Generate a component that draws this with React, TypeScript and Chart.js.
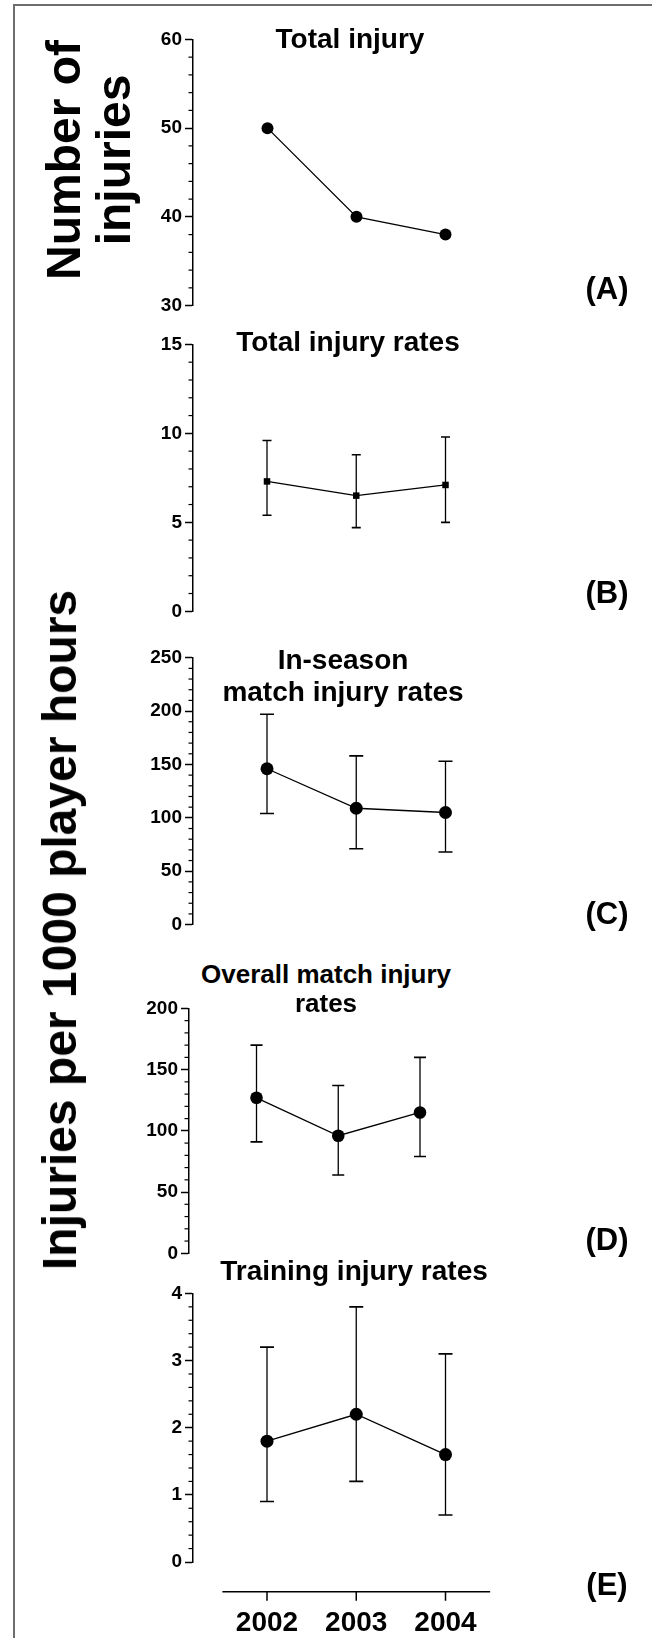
import React, { useEffect, useRef } from 'react';
import { Chart, registerables } from 'chart.js';

Chart.register(...registerables);

// ---------------- data ----------------
const years = ['2002', '2003', '2004'];

const totalInjuries = [50, 40, 38];

const totalRate = [7.3, 6.5, 7.1];
const totalRateLow = [5.4, 4.7, 5.0];
const totalRateHigh = [9.6, 8.8, 9.8];

const inSeasonRate = [146, 109, 105];
const inSeasonLow = [104, 71, 68];
const inSeasonHigh = [197, 158, 153];

const overallRate = [127, 96, 115];
const overallLow = [91, 64, 79];
const overallHigh = [170, 137, 160];

const trainingRate = [1.8, 2.2, 1.6];
const trainingLow = [0.9, 1.2, 0.7];
const trainingHigh = [3.2, 3.8, 3.1];

// ---------------- layout ----------------
const W = 652;
const H = 1638;
const FONT = '"Liberation Sans", Arial, Helvetica, sans-serif';

type Panel = {
  key: string;
  values: number[];
  low?: number[];
  high?: number[];
  yMin: number;
  yMax: number;
  major: number;
  minor: number;
  top: number;
  bottom: number;
  axisX: number;
  p0: number;
  p2: number;
  pointStyle: 'circle' | 'rect';
  pointRadius: number;
  capHalf: number;
  title: string[];
  titleX: number;
  titleY: number[];
  titleSize: number;
  letter: string;
  letterY: number;
  showYears?: boolean;
};

const panels: Panel[] = [
  {
    key: 'A', values: totalInjuries, yMin: 30, yMax: 60, major: 10, minor: 2,
    top: 39.3, bottom: 306, axisX: 193, p0: 267.5, p2: 445.5,
    pointStyle: 'circle', pointRadius: 6, capHalf: 0,
    title: ['Total injury'], titleX: 350, titleY: [39], titleSize: 28,
    letter: '(A)', letterY: 288,
  },
  {
    key: 'B', values: totalRate, low: totalRateLow, high: totalRateHigh,
    yMin: 0, yMax: 15, major: 5, minor: 1,
    top: 344, bottom: 611.3, axisX: 193, p0: 267, p2: 445.5,
    pointStyle: 'rect', pointRadius: 4.6, capHalf: 4.5,
    title: ['Total injury rates'], titleX: 348, titleY: [342], titleSize: 28,
    letter: '(B)', letterY: 591.5,
  },
  {
    key: 'C', values: inSeasonRate, low: inSeasonLow, high: inSeasonHigh,
    yMin: 0, yMax: 250, major: 50, minor: 10,
    top: 657.7, bottom: 925, axisX: 193, p0: 267, p2: 445.5,
    pointStyle: 'circle', pointRadius: 6.5, capHalf: 7,
    title: ['In-season', 'match injury rates'], titleX: 343, titleY: [660, 691.5], titleSize: 28,
    letter: '(C)', letterY: 913,
  },
  {
    key: 'D', values: overallRate, low: overallLow, high: overallHigh,
    yMin: 0, yMax: 200, major: 50, minor: 10,
    top: 1008.3, bottom: 1253.3, axisX: 189, p0: 256.5, p2: 420,
    pointStyle: 'circle', pointRadius: 6.3, capHalf: 6,
    title: ['Overall match injury', 'rates'], titleX: 326, titleY: [973.7, 1003], titleSize: 26,
    letter: '(D)', letterY: 1239,
  },
  {
    key: 'E', values: trainingRate, low: trainingLow, high: trainingHigh,
    yMin: 0, yMax: 4, major: 1, minor: 0.2,
    top: 1293.3, bottom: 1562, axisX: 193, p0: 267, p2: 445.5,
    pointStyle: 'circle', pointRadius: 6.5, capHalf: 7,
    title: ['Training injury rates'], titleX: 354, titleY: [1271], titleSize: 28,
    letter: '(E)', letterY: 1584, showYears: true,
  },
];

// ---------------- plugins ----------------
const errorBarPlugin = {
  id: 'errorBars',
  beforeDatasetsDraw(chart: any, _args: any, opts: any) {
    const low: number[] | undefined = opts && opts.low;
    const high: number[] | undefined = opts && opts.high;
    if (!low || !high) return;
    const ctx = chart.ctx;
    const xs = chart.scales.x;
    const ys = chart.scales.y;
    ctx.save();
    ctx.strokeStyle = '#000';
    for (let i = 0; i < low.length; i++) {
      const x = xs.getPixelForValue(i);
      const y1 = ys.getPixelForValue(low[i]);
      const y2 = ys.getPixelForValue(high[i]);
      ctx.lineWidth = 1.3;
      ctx.beginPath();
      ctx.moveTo(x, y1);
      ctx.lineTo(x, y2);
      ctx.stroke();
      ctx.lineWidth = 1.6;
      ctx.beginPath();
      ctx.moveTo(x - opts.capHalf, y1);
      ctx.lineTo(x + opts.capHalf, y1);
      ctx.moveTo(x - opts.capHalf, y2);
      ctx.lineTo(x + opts.capHalf, y2);
      ctx.stroke();
    }
    ctx.restore();
  },
};

const minorTickPlugin = {
  id: 'minorTicks',
  afterDraw(chart: any, _args: any, opts: any) {
    if (!opts || !opts.minor) return;
    const ys = chart.scales.y;
    const x0 = chart.chartArea.left;
    const ctx = chart.ctx;
    const n = Math.round((ys.max - ys.min) / opts.minor);
    ctx.save();
    ctx.strokeStyle = '#000';
    ctx.lineWidth = 1.2;
    for (let k = 0; k <= n; k++) {
      const v = ys.min + k * opts.minor;
      const r = v / opts.major;
      if (Math.abs(r - Math.round(r)) < 1e-6) continue;
      const y = ys.getPixelForValue(v);
      ctx.beginPath();
      ctx.moveTo(x0 - 4.5, y);
      ctx.lineTo(x0, y);
      ctx.stroke();
    }
    ctx.restore();
  },
};

const yearAxisPlugin = {
  id: 'yearAxis',
  afterDraw(chart: any, _args: any, opts: any) {
    if (!opts || !opts.labels) return;
    const labels: string[] = opts.labels;
    const xs = chart.scales.x;
    const ctx = chart.ctx;
    const yLine = chart.chartArea.bottom + opts.gap;
    const xL = xs.getPixelForValue(-0.5);
    const xR = xs.getPixelForValue(labels.length - 0.5);
    ctx.save();
    ctx.strokeStyle = '#000';
    ctx.lineWidth = 1.5;
    ctx.beginPath();
    ctx.moveTo(xL, yLine);
    ctx.lineTo(xR, yLine);
    for (let i = 0; i < labels.length; i++) {
      const x = xs.getPixelForValue(i);
      ctx.moveTo(x, yLine);
      ctx.lineTo(x, yLine + 9);
    }
    ctx.stroke();
    ctx.fillStyle = '#000';
    ctx.font = `bold 28px ${FONT}`;
    ctx.textAlign = 'center';
    ctx.textBaseline = 'alphabetic';
    for (let i = 0; i < labels.length; i++) {
      const x = xs.getPixelForValue(i);
      ctx.fillText(labels[i], x, yLine + 39);
    }
    ctx.restore();
  },
};

// ---------------- components ----------------
function PanelChart({ p }: { p: Panel }) {
  const ref = useRef<HTMLCanvasElement>(null);
  const padTop = 14;
  const canvasTop = Math.floor(p.top - padTop);
  const canvasBottom = p.showYears ? H : Math.ceil(p.bottom + 14);
  const height = canvasBottom - canvasTop;
  const layoutTop = p.top - canvasTop;
  const layoutBottom = canvasBottom - p.bottom;
  const unit = (p.p2 - p.p0) / 2;
  const xMin = -(p.p0 - p.axisX) / unit;
  const xMax = 2.5;
  const right = p.axisX + (xMax - xMin) * unit;
  const layoutRight = W - right;

  useEffect(() => {
    if (!ref.current) return;
    const chart = new Chart(ref.current, {
      type: 'line',
      data: {
        datasets: [
          {
            data: p.values.map((v, i) => ({ x: i, y: v })),
            borderColor: '#000',
            borderWidth: 1.3,
            pointStyle: p.pointStyle,
            pointRadius: p.pointRadius,
            pointHoverRadius: p.pointRadius,
            pointBackgroundColor: '#000',
            pointBorderColor: '#000',
            pointBorderWidth: 0,
            tension: 0,
            clip: false as any,
          },
        ],
      },
      options: {
        animation: false,
        responsive: false,
        maintainAspectRatio: false,
        events: [],
        layout: { padding: { top: layoutTop, bottom: layoutBottom, left: 0, right: layoutRight } },
        plugins: {
          legend: { display: false },
          tooltip: { enabled: false },
          title: { display: false },
          errorBars: { low: p.low, high: p.high, capHalf: p.capHalf },
          minorTicks: { minor: p.minor, major: p.major },
          yearAxis: p.showYears ? { labels: years, gap: 29.7 } : { labels: null },
        } as any,
        scales: {
          x: { type: 'linear', min: xMin, max: xMax, display: false },
          y: {
            type: 'linear',
            min: p.yMin,
            max: p.yMax,
            afterFit: (s: any) => {
              s.width = p.axisX;
            },
            border: { display: true, color: '#000', width: 1.5 },
            grid: {
              drawOnChartArea: false,
              drawTicks: true,
              tickLength: 8,
              tickColor: '#000',
              tickWidth: 1.5,
            },
            ticks: {
              stepSize: p.major,
              color: '#000',
              padding: 3,
              font: { family: FONT, size: 19, weight: 'bold' },
              callback: (v: any) => String(v),
            },
          },
        },
      } as any,
      plugins: [errorBarPlugin, minorTickPlugin, yearAxisPlugin],
    });
    return () => chart.destroy();
  }, []);

  return (
    <canvas
      ref={ref}
      width={W}
      height={height}
      style={{ position: 'absolute', left: 0, top: canvasTop, width: W, height }}
    />
  );
}

function Txt({ x, y, size, text, rotate }: { x: number; y: number; size: number; text: string; rotate?: boolean }) {
  return (
    <div
      style={{
        position: 'absolute',
        left: x,
        top: y,
        transform: `translate(-50%, -50%)${rotate ? ' rotate(-90deg)' : ''}`,
        font: `bold ${size}px ${FONT}`,
        lineHeight: 1,
        whiteSpace: 'nowrap',
        color: '#000',
      }}
    >
      {text}
    </div>
  );
}

export default function App() {
  return (
    <div
      style={{
        position: 'absolute',
        left: 0,
        top: 0,
        width: W,
        height: H,
        background: '#fff',
        overflow: 'hidden',
      }}
    >
      {/* frame */}
      <div style={{ position: 'absolute', left: 13, top: 4, width: W - 13, height: 2, background: '#6e6e6e' }} />
      <div style={{ position: 'absolute', left: 13, top: 4, width: 2, height: H - 4, background: '#6e6e6e' }} />

      {panels.map((p) => (
        <PanelChart key={p.key} p={p} />
      ))}

      {panels.map((p) =>
        p.title.map((t, i) => <Txt key={p.key + 't' + i} x={p.titleX} y={p.titleY[i]} size={p.titleSize} text={t} />)
      )}
      {panels.map((p) => (
        <Txt key={p.key + 'l'} x={607} y={p.letterY} size={31} text={p.letter} />
      ))}

      <Txt x={64} y={160} size={48} text="Number of" rotate />
      <Txt x={114} y={160} size={48} text="injuries" rotate />
      <Txt x={60} y={930} size={48} text="Injuries per 1000 player hours" rotate />
    </div>
  );
}
